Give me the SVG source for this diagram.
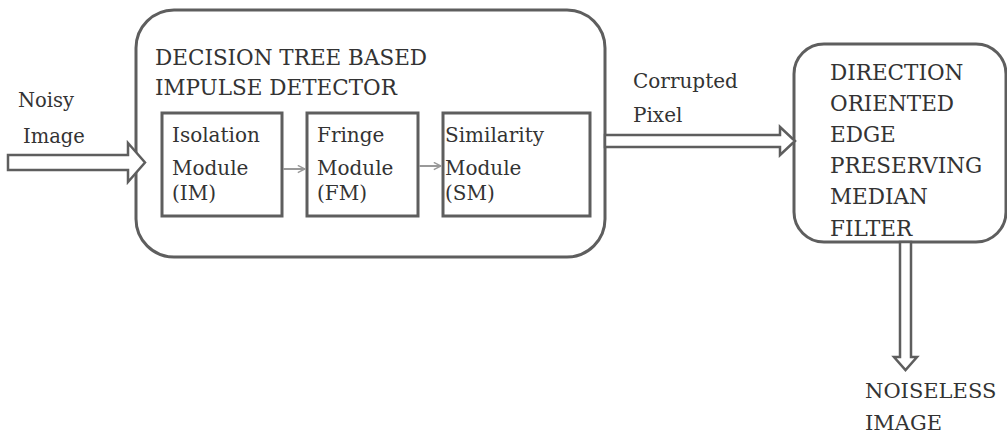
<svg xmlns="http://www.w3.org/2000/svg" width="1007" height="436" viewBox="0 0 1007 436">
<style>
.t{font-family:"DejaVu Serif","Liberation Serif",serif;fill:#333;}
.big{fill:none;stroke:#5e5e5e;stroke-width:3;}
.box{fill:#fff;stroke:#5e5e5e;stroke-width:3;}
.hollow{fill:#fff;stroke:#5e5e5e;stroke-width:2.5;stroke-linejoin:miter;}
.thin{fill:none;stroke:#999;stroke-width:2;}
</style>
<defs>
<marker id="chev" viewBox="0 0 10 10" refX="9" refY="5" markerWidth="9" markerHeight="9" markerUnits="userSpaceOnUse" orient="auto">
<path d="M1,1 L9,5 L1,9" fill="none" stroke="#999" stroke-width="1.6"/>
</marker>
</defs>
<rect width="1007" height="436" fill="#fff"/>
<g id="detector">
<rect class="big" x="136" y="10" width="469" height="247" rx="38" ry="38"/>
<text class="t" font-size="21.5" x="155" y="65">DECISION TREE BASED</text>
<text class="t" font-size="21.5" x="155" y="95">IMPULSE DETECTOR</text>
</g>
<g id="im">
<rect class="box" x="162" y="113" width="120" height="103"/>
<text class="t" font-size="20" x="172" y="142">Isolation</text>
<text class="t" font-size="20" x="172" y="175">Module</text>
<text class="t" font-size="20" x="172" y="200">(IM)</text>
</g>
<g id="fm">
<rect class="box" x="307" y="113" width="111" height="103"/>
<text class="t" font-size="20" x="317" y="142">Fringe</text>
<text class="t" font-size="20" x="317" y="175">Module</text>
<text class="t" font-size="20" x="317" y="200">(FM)</text>
</g>
<g id="sm">
<rect class="box" x="443" y="113" width="147" height="103"/>
<text class="t" font-size="20" x="445" y="142">Similarity</text>
<text class="t" font-size="20" x="445" y="175">Module</text>
<text class="t" font-size="20" x="445" y="200">(SM)</text>
</g>
<g id="filter">
<rect class="big" x="794" y="44" width="212" height="198" rx="30" ry="30"/>
<text class="t" font-size="21.5" x="830" y="80">DIRECTION</text>
<text class="t" font-size="21.5" x="830" y="111">ORIENTED</text>
<text class="t" font-size="21.5" x="830" y="142">EDGE</text>
<text class="t" font-size="21.5" x="830" y="173">PRESERVING</text>
<text class="t" font-size="21.5" x="830" y="204">MEDIAN</text>
<text class="t" font-size="21.5" x="830" y="236">FILTER</text>
</g>
<g id="input-label">
<text class="t" font-size="19.5" x="18" y="107">Noisy</text>
<text class="t" font-size="19.5" x="23" y="143">Image</text>
</g>
<g id="corrupted-label">
<text class="t" font-size="20" x="633" y="88">Corrupted</text>
<text class="t" font-size="20" x="633" y="122">Pixel</text>
</g>
<g id="output-label">
<text class="t" font-size="21" x="865" y="398">NOISELESS</text>
<text class="t" font-size="21" x="865" y="430">IMAGE</text>
</g>
<g id="connectors">
<polygon class="hollow" points="8,155 128,155 128,143 145,162.5 128,182 128,170 8,170"/>
<polygon class="hollow" points="605,135 780,135 780,127 795,141 780,155 780,147 605,147"/>
<polygon class="hollow" points="900,242 911,242 911,357 917,357 905.5,370 894,357 900,357"/>
<line class="thin" x1="283" y1="169" x2="305" y2="169" marker-end="url(#chev)"/>
<line class="thin" x1="419" y1="166" x2="441" y2="166" marker-end="url(#chev)"/>
</g>
</svg>
